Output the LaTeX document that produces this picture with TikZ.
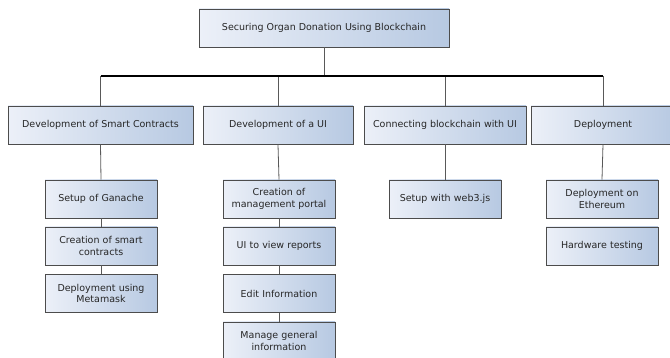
\documentclass[tikz,border=0pt]{standalone}
\usepackage{fontspec}
\setmainfont{DejaVu Sans}
\begin{document}
\begin{tikzpicture}[x=1pt,y=-1pt,
  box/.style={draw=black!70, line width=0.8pt, left color={rgb,255:red,236;green,240;blue,248}, right color={rgb,255:red,183;green,201;blue,226},
    minimum height=38pt, inner sep=1pt, align=center, font=\fontsize{9.5}{11.5}\selectfont, text=black!85},
  topbox/.style={box, minimum width=250pt},
  sub/.style={box, minimum width=112pt, text width=108pt},
  link/.style={draw=black!65, line width=0.8pt},
  bus/.style={draw=black, line width=1.4pt}]
\useasboundingbox (0,0) rectangle (670,358);
\clip (0,0) rectangle (670,358);
\node[topbox] (top) at (324,28) {Securing Organ Donation Using Blockchain};
\node[box, minimum width=185pt] (dsc) at (100.5,125) {Development of Smart Contracts};
\node[box, minimum width=150pt] (dui) at (278,125) {Development of a UI};
\node[box, minimum width=162pt] (con) at (445,125) {Connecting blockchain with UI};
\node[box, minimum width=144pt] (dep) at (603,125) {Deployment};
\node[sub] (g1) at (101,199) {Setup of Ganache};
\node[sub] (g2) at (101,246) {Creation of smart\\contracts};
\node[sub] (g3) at (101,293.5) {Deployment using\\Metamask};
\node[sub] (u1) at (279,199) {Creation of\\management portal};
\node[sub] (u2) at (279,246) {UI to view reports};
\node[sub] (u3) at (279,293.5) {Edit Information};
\node[sub] (u4) at (279,341) {Manage general\\information};
\node[sub] (w1) at (445,199) {Setup with web3.js};
\node[sub] (e1) at (602,199) {Deployment on\\Ethereum};
\node[sub] (e2) at (602,246) {Hardware testing};
\coordinate (busL) at (100.5,76);
\coordinate (busR) at (603,76);
\draw[link] (top.south) -- (top.south |- busL);
\draw[link] (dsc.north) -- (dsc.north |- busL);
\draw[link] (dui.north) -- (dui.north |- busL);
\draw[link] (con.north) -- (con.north |- busL);
\draw[link] (dep.north) -- (dep.north |- busL);
\draw[bus] (busL) -- (busR);
\draw[link] (dsc.south) -- (g1.north);
\draw[link] (g1.south) -- (g2.north);
\draw[link] (g2.south) -- (g3.north);
\draw[link] (dui.south) -- (u1.north);
\draw[link] (u1.south) -- (u2.north);
\draw[link] (u2.south) -- (u3.north);
\draw[link] (u3.south) -- (u4.north);
\draw[link] (con.south) -- (w1.north);
\draw[link] (dep.south) -- (e1.north);
\end{tikzpicture}
\end{document}
